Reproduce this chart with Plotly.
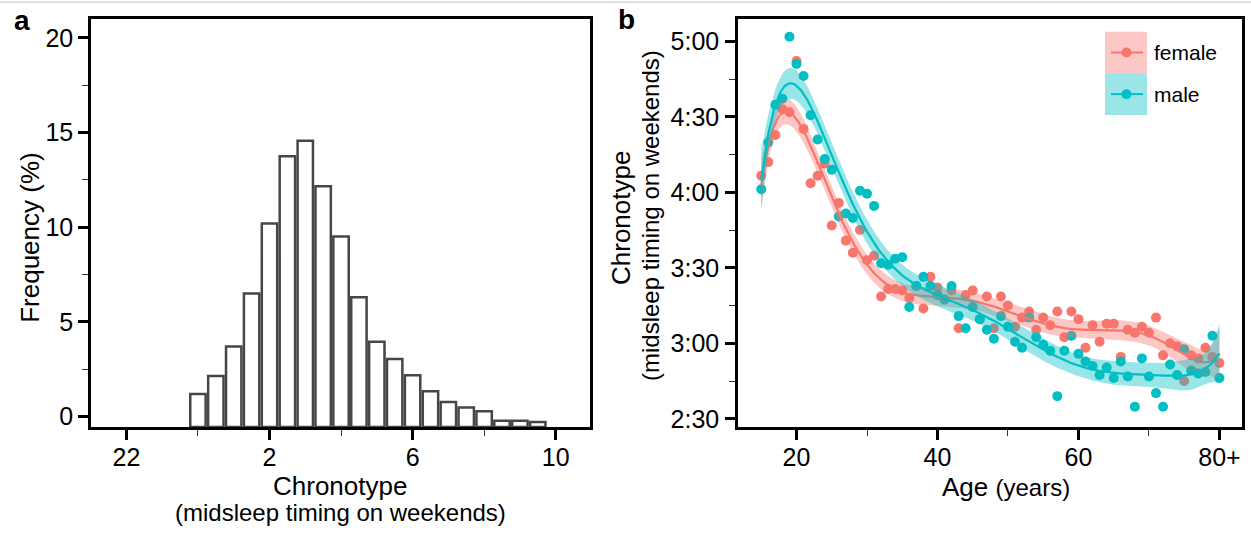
import numpy as np
import plotly.graph_objects as go

# panel a: chronotype histogram (bin centres in hours after midnight, 22h = -2)
chrono_bins = [0.0, 0.5, 1.0, 1.5, 2.0, 2.5, 3.0, 3.5, 4.0, 4.5,
               5.0, 5.5, 6.0, 6.5, 7.0, 7.5, 8.0, 8.5, 9.0, 9.5]
chrono_freq = [1.19, 2.15, 3.70, 6.50, 10.20, 13.75, 14.57, 12.16, 9.51, 6.30,
               3.96, 3.05, 2.18, 1.34, 0.77, 0.49, 0.28, -0.22, -0.22, -0.28]
chrono_ticks = [-2, 2, 6, 10]
chrono_ticktext = ["22", "2", "6", "10"]
freq_ticks = [0, 5, 10, 15, 20]

# panel b: mean midsleep (hours) by age and sex
ages = list(range(15, 81))
female = [4.11, 4.20, 4.38, 4.55, 4.53, 4.87, 4.42, 4.06, 4.11, 4.19,
          3.78, 3.93, 3.68, 3.60, 3.75, 3.55, 3.58, 3.31, 3.36, 3.36,
          3.35, 3.30, 3.38, 3.23, 3.44, 3.37, 3.29, 3.35, 3.10, 3.32,
          3.35, 3.16, 3.31, 3.10, 3.31, 3.25, 3.11, 3.17, 3.21, 3.09,
          3.17, 3.12, 3.21, 3.04, 3.21, 3.16, 2.97, 3.12, 3.01, 3.13,
          3.13, 2.91, 3.09, 3.07, 3.11, 3.07, 3.17, 2.92, 3.00, 2.98,
          2.75, 2.92, 2.90, 2.97, 2.91, 2.87]
male = [4.02, 4.33, 4.58, 4.62, 5.03, 4.85, 4.77, 4.51, 4.35, 4.22,
        4.15, 3.84, 3.86, 3.83, 4.01, 3.99, 3.91, 3.53, 3.52, 3.56,
        3.57, 3.24, 3.38, 3.44, 3.38, 3.32, 3.29, 3.38, 3.18, 3.10,
        3.24, 3.16, 3.09, 3.03, 3.18, 3.11, 3.01, 2.97, 3.17, 3.04,
        2.99, 2.95, 2.65, 2.95, 3.05, 2.93, 2.88, 2.85, 2.79, 2.84,
        2.77, 2.88, 2.78, 2.58, 2.90, 2.78, 2.67, 2.58, 2.86, 2.79,
        2.96, 2.82, 2.80, 2.81, 3.05, 2.77]
age_ticks = [20, 40, 60, 80]
age_ticktext = ["20", "40", "60", "80+"]
time_ticks = [2.5, 3.0, 3.5, 4.0, 4.5, 5.0]
time_ticktext = ["2:30", "3:00", "3:30", "4:00", "4:30", "5:00"]

F_COL = "#F8766D"
M_COL = "#00BFC4"
F_BAND = "rgba(248,118,109,0.4)"
M_BAND = "rgba(0,191,196,0.4)"
FONT = "Liberation Sans, Arial, sans-serif"
W, H = 1251, 550


def px(x, y):
    return x / W, 1 - y / H


def poly_smooth(x, y, grid, deg=7):
    # polynomial least squares fit with 95% confidence band
    x = np.asarray(x, float)
    y = np.asarray(y, float)
    c, s = 47.5, 32.5
    X = np.vander((x - c) / s, deg + 1)
    beta = np.linalg.lstsq(X, y, rcond=None)[0]
    resid = y - X @ beta
    s2 = resid @ resid / (len(y) - deg - 1)
    cov = s2 * np.linalg.inv(X.T @ X)
    G = np.vander((grid - c) / s, deg + 1)
    fit = G @ beta
    se = np.sqrt(np.einsum("ij,jk,ik->i", G, cov, G))
    return fit, fit - 1.96 * se, fit + 1.96 * se


grid = np.linspace(min(ages), max(ages), 300)

fig = go.Figure()

# histogram
y_lo = -0.55
fig.add_trace(go.Bar(
    x=chrono_bins, y=[v - y_lo for v in chrono_freq], base=y_lo, width=0.43,
    marker=dict(color="white", line=dict(color="#464646", width=2.5)),
    xaxis="x", yaxis="y", showlegend=False))

# points
for vals, col in [(female, F_COL), (male, M_COL)]:
    fig.add_trace(go.Scatter(
        x=ages, y=vals, mode="markers", marker=dict(color=col, size=10),
        xaxis="x2", yaxis="y2", showlegend=False))

# smooth fits
for vals, col, band in [(female, F_COL, F_BAND), (male, M_COL, M_BAND)]:
    fit, lo, hi = poly_smooth(ages, vals, grid)
    fig.add_trace(go.Scatter(
        x=np.concatenate([grid, grid[::-1]]), y=np.concatenate([hi, lo[::-1]]),
        fill="toself", fillcolor=band, line=dict(width=0), mode="lines",
        xaxis="x2", yaxis="y2", showlegend=False, hoverinfo="skip"))
    fig.add_trace(go.Scatter(
        x=grid, y=fit, mode="lines", line=dict(color=col, width=2.2),
        xaxis="x2", yaxis="y2", showlegend=False))

axis_style = dict(
    showline=True, linecolor="black", linewidth=2.5, mirror=True,
    ticks="outside", ticklen=10, tickwidth=2.5, tickcolor="black",
    showgrid=False, zeroline=False,
    tickfont=dict(size=25, color="black", family=FONT))
minor_style = dict(ticks="outside", ticklen=6, tickwidth=1, tickcolor="#333")

xa0, ya0 = px(91, 431)
xa1, ya1 = px(590, 19)
xb0, yb0 = px(738, 431)
xb1, yb1 = px(1242, 19)

fig.update_layout(
    width=W, height=H, margin=dict(l=0, r=0, t=0, b=0),
    paper_bgcolor="white", plot_bgcolor="white",
    font=dict(family=FONT, color="black"),
    xaxis=dict(axis_style, domain=[xa0, xa1], range=[-2.99, 10.96],
               tickvals=chrono_ticks, ticktext=chrono_ticktext,
               ticklabelstandoff=-4, minor=dict(minor_style, tickvals=[0, 4, 8])),
    yaxis=dict(axis_style, domain=[ya0, ya1], range=[y_lo, 21.0],
               tickvals=freq_ticks, ticklabelstandoff=0,
               minor=dict(minor_style, tickvals=[2.5, 7.5, 12.5, 17.5])),
    xaxis2=dict(axis_style, domain=[xb0, xb1], range=[11.7, 83.2],
                anchor="y2", tickvals=age_ticks, ticktext=age_ticktext,
                ticklabelstandoff=-4, minor=dict(minor_style, tickvals=[30, 50, 70])),
    yaxis2=dict(axis_style, domain=[yb0, yb1], range=[2.445, 5.149],
                anchor="x2", tickvals=time_ticks, ticktext=time_ticktext,
                ticklabelstandoff=1,
                minor=dict(minor_style, tickvals=[2.75, 3.25, 3.75, 4.25, 4.75])),
)

# titles and panel letters
def note(x, y, text, size, angle=0, bold=False, xanchor="center"):
    xp, yp = px(x, y)
    fig.add_annotation(x=xp, y=yp, xref="paper", yref="paper", text=text,
                       showarrow=False, textangle=angle, xanchor=xanchor,
                       yanchor="middle",
                       font=dict(size=size, family=FONT, color="black",
                                 weight="bold" if bold else "normal"))

note(22, 21, "a", 28, bold=True)
note(626, 20, "b", 28, bold=True)
note(340, 490, "Chronotype", 26)
note(340, 517, "(midsleep timing on weekends)", 24)
note(30, 240, "Frequency (%)", 26, angle=-90)
note(1006, 491, "Age <span style='font-size:24px'>(years)</span>", 26)
note(621, 220, "Chronotype", 26, angle=-90)
note(650, 218, "(midsleep timing on weekends)", 24, angle=-90)

# legend drawn as keys in panel b
for i, (label, col, band) in enumerate([("female", F_COL, F_BAND), ("male", M_COL, M_BAND)]):
    top = 32 + i * 42
    x0, y0 = px(1105, top)
    x1, y1 = px(1147, top + 42)
    fig.add_shape(type="rect", xref="paper", yref="paper", x0=x0, x1=x1,
                  y0=y1, y1=y0, fillcolor=band, line=dict(width=0))
    lx0, ly = px(1111, top + 21)
    lx1, _ = px(1143, top + 21)
    fig.add_shape(type="line", xref="paper", yref="paper", x0=lx0, x1=lx1,
                  y0=ly, y1=ly, line=dict(color=col, width=2))
    cx0, cy0 = px(1121.5, top + 16)
    cx1, cy1 = px(1131.5, top + 26)
    fig.add_shape(type="circle", xref="paper", yref="paper", x0=cx0, x1=cx1,
                  y0=cy1, y1=cy0, fillcolor=col, line=dict(width=0))
    note(1152, top + 21, label, 21, xanchor="left")

# thin rule at the top of the page
fig.add_shape(type="line", xref="paper", yref="paper", x0=0, x1=1,
              y0=1 - 2 / H, y1=1 - 2 / H, line=dict(color="#d5d5d5", width=1.5))

fig.write_html("out.html", config={"displayModeBar": False},
               post_script="document.body.style.margin='0';")
